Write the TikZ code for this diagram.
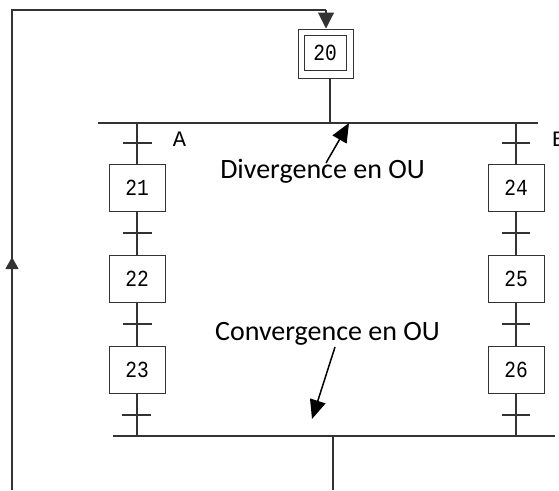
\documentclass[tikz,border=0pt]{standalone}
\usepackage{fontspec}
\setmainfont{Carlito}
\newfontfamily\grafmono{Liberation Mono}
\usetikzlibrary{arrows.meta}
\newcommand{\stepnum}[1]{\scalebox{0.85}[1]{#1}}
\begin{document}
\begin{tikzpicture}[x=1pt,y=-1pt,
  wire/.style={draw=black!80, line width=1.1pt},
  stepbox/.style={draw=black!80, line width=1pt, minimum width=56pt,
    minimum height=47pt, inner sep=0pt, font=\grafmono\fontsize{23}{23}\selectfont},
  initbox/.style={draw=black!80, line width=1pt, minimum width=55pt,
    minimum height=49pt, inner sep=0pt},
  innerbox/.style={draw=black!80, line width=1pt, minimum width=42pt,
    minimum height=35pt, inner sep=0pt, font=\grafmono\fontsize{23}{23}\selectfont},
  recept/.style={font=\grafmono\fontsize{22}{22}\selectfont, inner sep=0pt},
  note/.style={font=\fontsize{28}{32}\selectfont, inner sep=0pt, anchor=base},
  pointer/.style={draw=black, line width=1.5pt, -{Triangle[length=19pt,width=16pt]}}]
\useasboundingbox (0,0) rectangle (559,490);
\fill[white] (0,0) rectangle (559,490);

% initial step
\node[initbox] (s20) at (325.5,53.5) {};
\node[innerbox] (s20i) at (325,53) {\stepnum{20}};

% left branch
\node[stepbox] (s21) at (137,187.5) {\stepnum{21}};
\node[stepbox] (s22) at (137,279) {\stepnum{22}};
\node[stepbox] (s23) at (137,369.5) {\stepnum{23}};
% right branch
\node[stepbox] (s24) at (516,187.5) {\stepnum{24}};
\node[stepbox] (s25) at (516,279) {\stepnum{25}};
\node[stepbox] (s26) at (516,369.5) {\stepnum{26}};

% selection bars
\coordinate (divL) at (98,123);
\coordinate (divR) at (538,123);
\coordinate (conL) at (113,436);
\coordinate (conR) at (555,436);
\draw[wire] (divL) -- (divR);
\draw[wire] (conL) -- (conR);

% link from step 20 to the divergence bar
\draw[wire] (330,0 |- s20.south) -- (330,123);

% branch links
\draw[wire] (137,123) -- (s21.north);
\draw[wire] (s21.south) -- (s22.north);
\draw[wire] (s22.south) -- (s23.north);
\draw[wire] (s23.south) -- (137,436);
\draw[wire] (516,123) -- (s24.north);
\draw[wire] (s24.south) -- (s25.north);
\draw[wire] (s25.south) -- (s26.north);
\draw[wire] (s26.south) -- (516,436);

% transitions
\foreach \y in {143,233,324}{
  \draw[wire] (123,\y) -- (152,\y);
  \draw[wire] (502,\y) -- (530,\y);
}
\draw[wire] (122,415) -- (151,415);
\draw[wire] (502,415) -- (530,415);

% receptivities
\node[recept] (ra) at (179.5,139) {A};
\node[recept, anchor=west] (rb) at (552,139) {B};

% loop back to the initial step
\coordinate (out) at (333,490);
\draw[wire] (333,436) -- (out);
\coordinate (lb) at (12,490);
\coordinate (lt) at (12,10);
\coordinate (top) at (326,10);
\draw[wire] (lb) -- (lt) -- (top);
\draw[wire, -{Triangle[length=16pt,width=16pt]}] (top) -- (s20.north -| top);
\draw[wire, -{Triangle[length=12pt,width=13pt]}] (lb) -- (12,257);

% annotations
\node[note] (dtxt) at (322.5,178) {Divergence en OU};
\node[note] (ctxt) at (327.5,340) {Convergence en OU};
\draw[pointer] (326,163) -- (349,123);
\draw[pointer] (335,347) -- (312,419);
\end{tikzpicture}
\end{document}
